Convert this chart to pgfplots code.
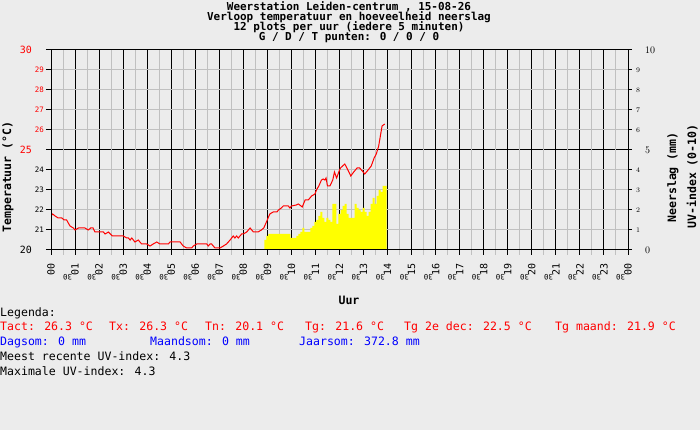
\documentclass[border=0pt]{standalone}
\usepackage{pgfplots}
\pgfplotsset{compat=1.18}
\usepackage{fontspec}
\setmainfont{DejaVu Sans Mono}
\definecolor{bg}{RGB}{236,236,236}
\definecolor{gridgrey}{RGB}{192,192,192}
\definecolor{uvyellow}{RGB}{255,255,0}
\definecolor{tred}{RGB}{255,0,0}
\definecolor{tblue}{RGB}{0,0,255}
\newcommand{\txt}{\fontsize{11.6}{12}\selectfont}
\newcommand{\ttl}{\fontsize{11}{11}\selectfont}
\newcommand{\bgf}{\fontsize{10}{10}\selectfont}
\newcommand{\sml}{\fontsize{7.5}{7.5}\selectfont}
\begin{document}
\begin{tikzpicture}
\fill[bg] (0bp,0bp) rectangle (700bp,430bp);
\useasboundingbox (0bp,0bp) rectangle (700bp,430bp);
% titles
\node[font=\bfseries\ttl,anchor=base,inner sep=0pt] at (349bp,419bp) {Weerstation Leiden-centrum , 15-08-26};
\node[font=\bfseries\ttl,anchor=base,inner sep=0pt] at (349bp,409bp) {Verloop temperatuur en hoeveelheid neerslag};
\node[font=\bfseries\ttl,anchor=base,inner sep=0pt] at (349bp,399bp) {12 plots per uur (iedere 5 minuten)};
\node[font=\bfseries\ttl,anchor=base,inner sep=0pt] at (349bp,389bp) {G / D / T punten: 0 / 0 / 0};
% axis titles
\node[font=\bfseries\txt,anchor=base,inner sep=0pt,rotate=90] at (11bp,253bp) {Temperatuur (°C)};
\node[font=\bfseries\txt,anchor=base,inner sep=0pt,rotate=90] at (676bp,252.5bp) {Neerslag (mm)};
\node[font=\bfseries\txt,anchor=base,inner sep=0pt,rotate=90] at (696bp,253.5bp) {UV-index (0-10)};
\node[font=\bfseries\txt,anchor=base,inner sep=0pt] at (349bp,125bp) {Uur};
% legend
\node[font=\txt,anchor=base west,inner sep=0pt] at (0bp,113bp) {Legenda:};
\begin{scope}[every node/.style={font=\txt,anchor=base west,inner sep=0pt,text=tred}]
\node at (0bp,99bp) {Tact: 26.3 °C};
\node at (109bp,99bp) {Tx: 26.3 °C};
\node at (205bp,99bp) {Tn: 20.1 °C};
\node at (305bp,99bp) {Tg: 21.6 °C};
\node at (404bp,99bp) {Tg 2e dec: 22.5 °C};
\node at (555bp,99bp) {Tg maand: 21.9 °C};
\end{scope}
\begin{scope}[every node/.style={font=\txt,anchor=base west,inner sep=0pt,text=tblue}]
\node at (0bp,84bp) {Dagsom: 0 mm};
\node at (150bp,84bp) {Maandsom: 0 mm};
\node at (299bp,84bp) {Jaarsom: 372.8 mm};
\end{scope}
\node[font=\txt,anchor=base west,inner sep=0pt] at (0bp,69bp) {Meest recente UV-index: 4.3};
\node[font=\txt,anchor=base west,inner sep=0pt] at (0bp,54bp) {Maximale UV-index: 4.3};

% temperature axis
\begin{axis}[
  at={(51bp,180bp)}, anchor=south west,
  scale only axis, width=577bp, height=200bp,
  xmin=0, xmax=24, ymin=20, ymax=30,
  axis line style={black, line width=1bp},
  tick align=outside, major tick length=5bp,
  xtick pos=bottom, ytick pos=left,
  major tick style={black, line width=1bp},
  grid=major,
  major grid style={black, line width=1bp},
  xtick={0,1,...,24},
  xticklabels={00,01,02,03,04,05,06,07,08,09,10,11,12,13,14,15,16,17,18,19,20,21,22,23,00},
  xticklabel style={font=\bgf, rotate=90, anchor=east, inner sep=0pt},
  xticklabel shift=8bp,
  ytick={20,25,30},
  yticklabels={20,{\textcolor{tred}{25}},{\textcolor{tred}{30}}},
  yticklabel style={font=\bgf, anchor=east, inner sep=0pt},
  yticklabel shift=14bp,
  extra x ticks={0.5,1.5,2.5,3.5,4.5,5.5,6.5,7.5,8.5,9.5,10.5,11.5,12.5,13.5,14.5,15.5,16.5,17.5,18.5,19.5,20.5,21.5,22.5,23.5},
  extra x tick labels={30,30,30,30,30,30,30,30,30,30,30,30,30,30,30,30,30,30,30,30,30,30,30,30},
  extra x tick style={grid=major, major grid style={gridgrey, line width=1bp},
     major tick style={gridgrey, line width=1bp},
     xticklabel style={font=\sml, rotate=90, anchor=east, inner sep=0pt},
     xticklabel shift=22bp},
  extra y ticks={21,22,23,24,26,27,28,29},
  extra y tick labels={21,22,23,24,{\textcolor{tred}{26}},{\textcolor{tred}{27}},{\textcolor{tred}{28}},{\textcolor{tred}{29}}},
  extra y tick style={grid=major, major grid style={gridgrey, line width=1bp},
     major tick style={black, line width=1bp},
     yticklabel style={font=\sml, anchor=east, inner sep=0pt},
     yticklabel shift=2bp},
]
\addplot[tred, line width=1bp] coordinates {
(0.00,21.7) (0.07,21.8) (0.17,21.7) (0.30,21.6) (0.45,21.6) (0.55,21.5) (0.65,21.5)
(0.79,21.2) (0.93,21.1) (1.00,21.0) (1.14,21.1) (1.41,21.1) (1.55,21.0) (1.65,21.1)
(1.75,21.1) (1.83,20.9) (2.18,20.9) (2.25,20.8) (2.39,20.9) (2.55,20.7) (3.01,20.7)
(3.15,20.6) (3.22,20.6) (3.29,20.5) (3.36,20.6) (3.49,20.4) (3.63,20.5) (3.77,20.3)
(3.98,20.3) (4.12,20.2) (4.25,20.3) (4.40,20.4) (4.53,20.3) (4.88,20.3) (4.95,20.4)
(5.37,20.4) (5.50,20.2) (5.64,20.1) (5.85,20.1) (5.92,20.2) (6.06,20.3) (6.48,20.3)
(6.54,20.2) (6.62,20.3) (6.68,20.3) (6.82,20.1) (7.03,20.1) (7.17,20.2) (7.30,20.3)
(7.45,20.5) (7.58,20.7) (7.65,20.6) (7.72,20.7) (7.79,20.6) (7.93,20.8) (8.00,20.8)
(8.14,20.9) (8.28,21.1) (8.42,20.9) (8.61,20.9) (8.75,21.0) (8.85,21.1) (8.96,21.4)
(9.10,21.8) (9.24,21.9) (9.40,21.9) (9.46,22.0) (9.58,22.1) (9.66,22.2) (9.87,22.2)
(9.94,22.1) (10.00,22.2) (10.20,22.25) (10.29,22.3) (10.40,22.2) (10.45,22.15)
(10.57,22.5) (10.70,22.5) (10.84,22.7) (10.98,22.8) (11.04,23.0) (11.14,23.2)
(11.25,23.5) (11.32,23.55) (11.39,23.5) (11.44,23.6) (11.50,23.2) (11.60,23.2)
(11.72,23.5) (11.79,23.9) (11.88,23.6) (11.97,23.9) (12.04,24.1) (12.22,24.3)
(12.35,24.0) (12.47,23.7) (12.59,23.9) (12.73,24.1) (12.84,24.1) (12.95,23.95)
(13.05,23.8) (13.19,24.0) (13.32,24.2) (13.44,24.6) (13.53,24.8) (13.63,25.2)
(13.70,25.7) (13.77,26.2) (13.88,26.3)
};
\end{axis}

% UV axis
\begin{axis}[
  at={(51bp,180bp)}, anchor=south west,
  scale only axis, width=577bp, height=200bp,
  xmin=0, xmax=24, ymin=0, ymax=10,
  axis on top,
  axis line style={black, line width=1bp},
  tick align=outside, major tick length=4bp,
  xtick=\empty, ytick pos=right,
  major tick style={black, line width=1bp},
  ytick={0,5,10},
  yticklabel style={font=\bgf, anchor=west, inner sep=0pt},
  yticklabel shift=13bp,
  extra y ticks={1,2,3,4,6,7,8,9},
  extra y tick style={major tick style={black, line width=1bp},
     yticklabel style={font=\sml, anchor=west, inner sep=0pt},
     yticklabel shift=4bp},
]
\addplot[fill=uvyellow, draw=none, const plot mark left] coordinates {
(8.875,0.5) (8.958,0.7) (9.042,0.8) (9.125,0.8) (9.208,0.8) (9.292,0.8) (9.375,0.8)
(9.458,0.8) (9.542,0.8) (9.625,0.8) (9.708,0.8) (9.792,0.8) (9.875,0.8) (9.958,0.6)
(10.042,0.6) (10.125,0.6) (10.208,0.7) (10.292,0.8) (10.375,0.9) (10.458,1.1)
(10.542,0.9) (10.625,0.9) (10.708,0.9) (10.792,1.1) (10.875,1.2) (10.958,1.4)
(11.042,1.5) (11.125,1.7) (11.208,1.9) (11.292,1.6) (11.375,1.4) (11.458,1.6)
(11.542,1.5) (11.625,1.4) (11.708,2.3) (11.792,2.3) (11.875,1.3) (11.958,1.8)
(12.042,2.0) (12.125,2.2) (12.208,2.3) (12.292,1.8) (12.375,1.6) (12.458,1.6)
(12.542,1.6) (12.625,2.3) (12.708,2.1) (12.792,2.0) (12.875,1.9) (12.958,2.1)
(13.042,1.9) (13.125,1.7) (13.208,1.9) (13.292,2.3) (13.375,2.6) (13.458,2.3)
(13.542,2.7) (13.625,3.0) (13.708,2.9) (13.792,3.2) (13.875,3.2) (13.958,3.2)
} \closedcycle;
\end{axis}
\end{tikzpicture}
\end{document}
